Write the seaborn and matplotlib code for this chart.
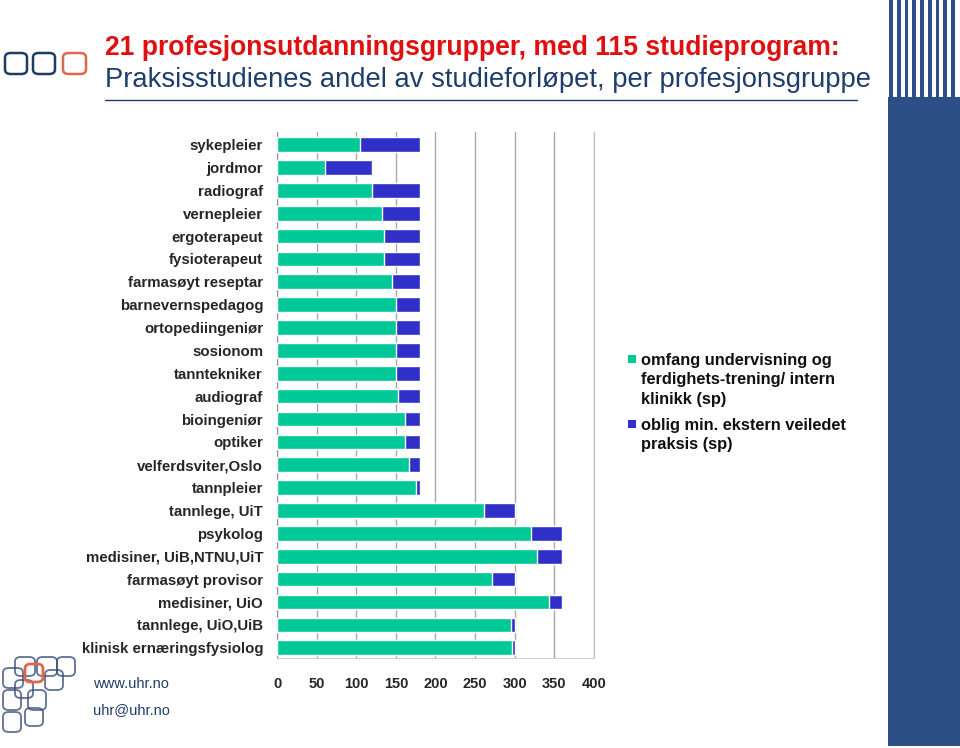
import matplotlib
matplotlib.use("Agg")
import matplotlib.pyplot as plt
import seaborn as sns
import pandas as pd
from matplotlib.patches import Rectangle, FancyBboxPatch
from matplotlib.lines import Line2D

categories = ["sykepleier", "jordmor", "radiograf", "vernepleier", "ergoterapeut",
              "fysioterapeut", "farmasøyt reseptar", "barnevernspedagog",
              "ortopediingeniør", "sosionom", "tanntekniker", "audiograf",
              "bioingeniør", "optiker", "velferdsviter,Oslo", "tannpleier",
              "tannlege, UiT", "psykolog", "medisiner, UiB,NTNU,UiT",
              "farmasøyt provisor", "medisiner, UiO", "tannlege, UiO,UiB",
              "klinisk ernæringsfysiolog"]
undervisning = [105, 60, 120, 133, 135, 135, 145, 150, 150, 150, 150, 153,
                161, 161, 166, 175, 261, 320, 328, 271, 343, 295, 296]
praksis = [75, 60, 60, 47, 45, 45, 35, 30, 30, 30, 30, 27,
           19, 19, 14, 5, 39, 40, 32, 29, 17, 5, 4]
xticks = [0, 50, 100, 150, 200, 250, 300, 350, 400]
legend_labels = ["omfang undervisning og\nferdighets-trening/ intern\nklinikk (sp)",
                 "oblig min. ekstern veiledet\npraksis (sp)"]

GREEN = "#00C896"
BLUE = "#3030C8"
NAVY = "#2B4F86"

df = pd.DataFrame({"kategori": categories,
                   "undervisning": undervisning,
                   "total": [a + b for a, b in zip(undervisning, praksis)]})

sns.set_style("white")
plt.rcParams["font.family"] = ["Liberation Sans", "DejaVu Sans"]

fig = plt.figure(figsize=(9.6, 7.48), dpi=100)
ax = fig.add_axes([277 / 960, 1 - 658 / 748, (594 - 277) / 960, (658 - 132) / 748])

sns.barplot(data=df, y="kategori", x="total", orient="h", color=BLUE,
            saturation=1, width=0.64, ax=ax, zorder=3)
sns.barplot(data=df, y="kategori", x="undervisning", orient="h", color=GREEN,
            saturation=1, width=0.64, ax=ax, zorder=4)

ax.set_xlim(0, 400)
ax.set_ylim(len(categories) - 0.55, -0.55)
ax.set_xticks(xticks)
ax.set_xticklabels([str(v) for v in xticks], fontweight="bold", fontsize=10.5)
ax.set_yticklabels(categories, fontweight="bold", fontsize=10.8)
ax.set_xlabel("")
ax.set_ylabel("")
ax.tick_params(axis="x", length=0, pad=14)
ax.tick_params(axis="y", length=0, pad=10)
ax.xaxis.grid(True, color="#A8A8A8", linewidth=1.0, zorder=0)
ax.set_axisbelow(True)
ax.spines["top"].set_visible(False)
ax.spines["left"].set_color("#909090")
ax.spines["right"].set_color("#C0C0C0")
ax.spines["bottom"].set_color("#D0D0D0")

# Legend (manual, markers aligned with the first line of each entry)
leg_items = [(GREEN, legend_labels[0], 359), (BLUE, legend_labels[1], 424)]
for color, label, ycen in leg_items:
    fig.add_artist(Rectangle((628 / 960, 1 - (ycen + 4) / 748), 8 / 960, 8 / 748,
                             facecolor=color, edgecolor="none", transform=fig.transFigure))
    fig.text(641 / 960, 1 - (ycen - 6) / 748, label, fontsize=11.8, fontweight="bold",
             va="top", ha="left", linespacing=1.36, color="#111111")

# Title
fig.text(105 / 960, 1 - 48 / 748, "21 profesjonsutdanningsgrupper, med 115 studieprogram:",
         color="#E01010", fontsize=19.1, fontweight="bold", va="center", ha="left")
fig.text(105 / 960, 1 - 80 / 748, "Praksisstudienes andel av studieforløpet, per profesjonsgruppe",
         color="#1F3D6B", fontsize=19.7, va="center", ha="left")
fig.add_artist(Line2D([105 / 960, 857 / 960], [1 - 100 / 748, 1 - 100 / 748],
                      color="#1F3D6B", linewidth=1.0, transform=fig.transFigure))

# Footer texts
fig.text(93 / 960, 1 - 684 / 748, "www.uhr.no", color="#1F3D6B", fontsize=10.5, va="center")
fig.text(93 / 960, 1 - 710 / 748, "uhr@uhr.no", color="#1F3D6B", fontsize=10.5, va="center")

# Right band
fig.add_artist(Rectangle((888 / 960, 1 - 746 / 748), 72 / 960, (746 - 97) / 748,
                         facecolor=NAVY, edgecolor="none", transform=fig.transFigure))
for i in range(9):
    x0 = 889 + i * 7.75
    fig.add_artist(Rectangle((x0 / 960, 1 - 98 / 748), 3.8 / 960, 98 / 748,
                             facecolor=NAVY, edgecolor="none", transform=fig.transFigure))

# Logos
def rsq(x, y, w, h, color, lw=1.6, alpha=1.0):
    p = FancyBboxPatch((x / 960, 1 - (y + h) / 748), w / 960, h / 748,
                       boxstyle="round,pad=0,rounding_size=0.006",
                       facecolor="none", edgecolor=color, linewidth=lw, alpha=alpha,
                       transform=fig.transFigure)
    fig.add_artist(p)

rsq(5, 53, 22, 21, "#1F3D63", lw=1.8)
rsq(33, 53, 22, 21, "#1F3D63", lw=1.8)
rsq(63, 53, 23, 21, "#E0674A", lw=1.8)

small = [(15, 657, 20, 19), (37, 657, 20, 19), (57, 657, 18, 19),
         (3, 668, 20, 20), (45, 670, 18, 20),
         (3, 690, 18, 20), (28, 690, 18, 20), (15, 680, 18, 18),
         (25, 708, 18, 18), (3, 712, 18, 20)]
for (x, y, w, h) in small:
    rsq(x, y, w, h, "#3A4E78", lw=1.3, alpha=0.8)
rsq(25, 664, 18, 18, "#E0674A", lw=2.0)

fig.savefig("out.png", dpi=100)
